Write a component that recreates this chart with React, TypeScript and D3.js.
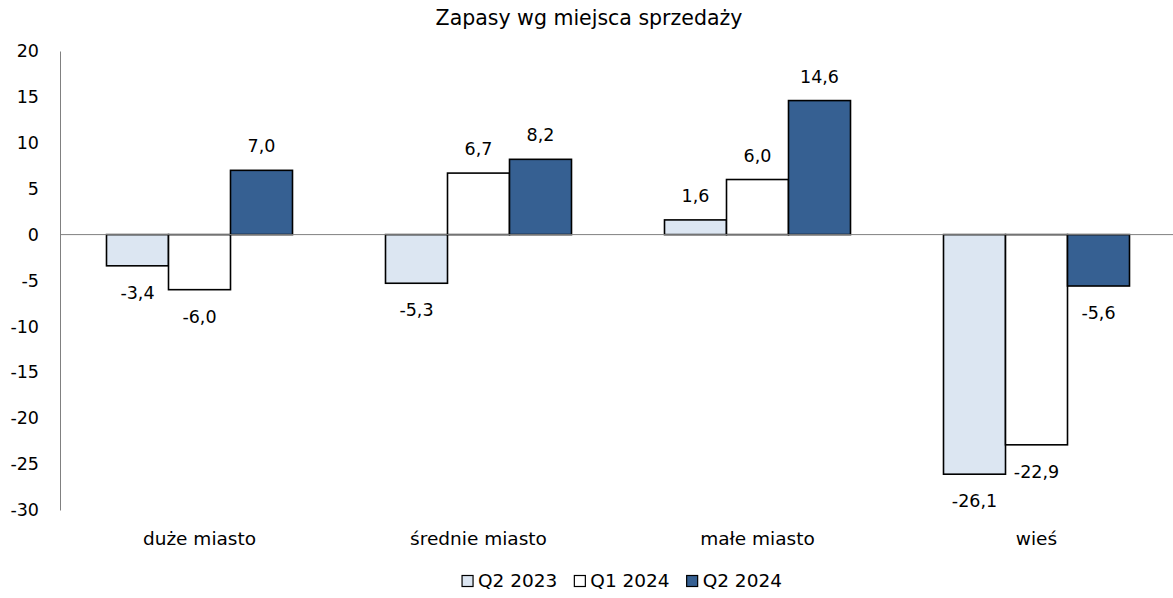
import * as d3 from 'd3';
import {useEffect, useRef} from 'react';

const categories = ['duże miasto', 'średnie miasto', 'małe miasto', 'wieś'];
const seriesNames = ['Q2 2023', 'Q1 2024', 'Q2 2024'];
const q2_2023 = [-3.4, -5.3, 1.6, -26.1];
const q1_2024 = [-6.0, 6.7, 6.0, -22.9];
const q2_2024 = [7.0, 8.2, 14.6, -5.6];
const yTicks = [20, 15, 10, 5, 0, -5, -10, -15, -20, -25, -30];
const colors = ['#dce6f2', '#ffffff', '#366092'];

const FONT = "Tahoma, 'DejaVu Sans', sans-serif";

export default function App() {
	const svgRef = useRef<SVGSVGElement>(null);
	const width = 1173;
	const height = 598;
	const margin = {top: 51, right: -3, bottom: 88, left: 60};

	useEffect(() => {
		const svg = d3.select(svgRef.current);
		svg.selectAll('*').remove();

		const values = [q2_2023, q1_2024, q2_2024];
		const rows = categories.map((c, i) => ({
			cat: c,
			vals: seriesNames.map((s, j) => ({series: s, j, value: values[j][i]})),
		}));

		const x0 = d3
			.scaleBand()
			.domain(categories)
			.range([margin.left, width - margin.right])
			.padding(0);
		const bw = x0.bandwidth();
		const x1 = d3
			.scaleBand()
			.domain(seriesNames)
			.range([bw / 6, (bw * 5) / 6])
			.padding(0);
		const y = d3
			.scaleLinear()
			.domain([-30, 20])
			.range([height - margin.bottom, margin.top]);

		// title
		svg
			.append('text')
			.attr('x', 589)
			.attr('y', 18)
			.attr('dy', '0.35em')
			.attr('text-anchor', 'middle')
			.style('font-family', FONT)
			.style('font-size', '20.5px')
			.attr('fill', '#000')
			.text('Zapasy wg miejsca sprzedaży');

		// y axis
		const yAxis = svg
			.append('g')
			.attr('transform', `translate(${margin.left},0)`)
			.call(
				d3
					.axisLeft(y)
					.tickValues(yTicks)
					.tickSize(0)
					.tickPadding(21)
					.tickFormat((d) => String(d)),
			);
		yAxis.select('.domain').attr('stroke', '#808080');
		yAxis
			.selectAll('text')
			.style('font-family', FONT)
			.style('font-size', '17.5px')
			.attr('fill', '#000');

		// bars
		const groups = svg
			.selectAll('.grp')
			.data(rows)
			.join('g')
			.attr('class', 'grp')
			.attr('transform', (d) => `translate(${x0(d.cat)},0)`);

		groups
			.selectAll('rect')
			.data((d) => d.vals)
			.join('rect')
			.attr('x', (d) => x1(d.series)!)
			.attr('y', (d) => y(Math.max(0, d.value)))
			.attr('width', x1.bandwidth())
			.attr('height', (d) => Math.abs(y(d.value) - y(0)))
			.attr('fill', (d) => colors[d.j])
			.attr('stroke', '#000')
			.attr('stroke-width', 1.6);

		// zero line
		svg
			.append('line')
			.attr('x1', margin.left)
			.attr('x2', width)
			.attr('y1', y(0))
			.attr('y2', y(0))
			.attr('stroke', '#808080')
			.attr('stroke-width', 1);

		// value labels
		groups
			.selectAll('.lbl')
			.data((d) => d.vals)
			.join('text')
			.attr('class', 'lbl')
			.attr('x', (d) => x1(d.series)! + x1.bandwidth() / 2)
			.attr('y', (d) => (d.value >= 0 ? y(d.value) - 24 : y(d.value) + 27))
			.attr('dy', '0.35em')
			.attr('text-anchor', 'middle')
			.style('font-family', FONT)
			.style('font-size', '17.5px')
			.attr('fill', '#000')
			.text((d) => d3.format('.1f')(d.value).replace('.', ',').replace('−', '-'));

		// category labels
		svg
			.selectAll('.cat')
			.data(categories)
			.join('text')
			.attr('class', 'cat')
			.attr('x', (d) => x0(d)! + bw / 2)
			.attr('y', 539)
			.attr('dy', '0.35em')
			.attr('text-anchor', 'middle')
			.style('font-family', FONT)
			.style('font-size', '18.5px')
			.attr('fill', '#000')
			.text((d) => d);

		// legend
		const legend = svg.append('g');
		const items = legend
			.selectAll('g')
			.data(seriesNames)
			.join('g');
		items
			.append('rect')
			.attr('x', 0)
			.attr('y', -5.5)
			.attr('width', 11)
			.attr('height', 11)
			.attr('fill', (_, i) => colors[i])
			.attr('stroke', '#000')
			.attr('stroke-width', 1.2);
		items
			.append('text')
			.attr('x', 16)
			.attr('dy', '0.35em')
			.style('font-family', FONT)
			.style('font-size', '18.5px')
			.attr('fill', '#000')
			.text((d) => d);
		let offset = 0;
		const gap = 17;
		items.each(function () {
			const g = d3.select(this);
			const tw = (g.select('text').node() as SVGTextElement).getComputedTextLength();
			g.attr('transform', `translate(${offset},0)`);
			offset += 16 + tw + gap;
		});
		const total = offset - gap;
		legend.attr('transform', `translate(${622 - total / 2},581)`);
	}, []);

	return (
		<svg
			ref={svgRef}
			width={width}
			height={height}
			style={{position: 'absolute', left: 0, top: 0, background: '#fff'}}
		/>
	);
}
